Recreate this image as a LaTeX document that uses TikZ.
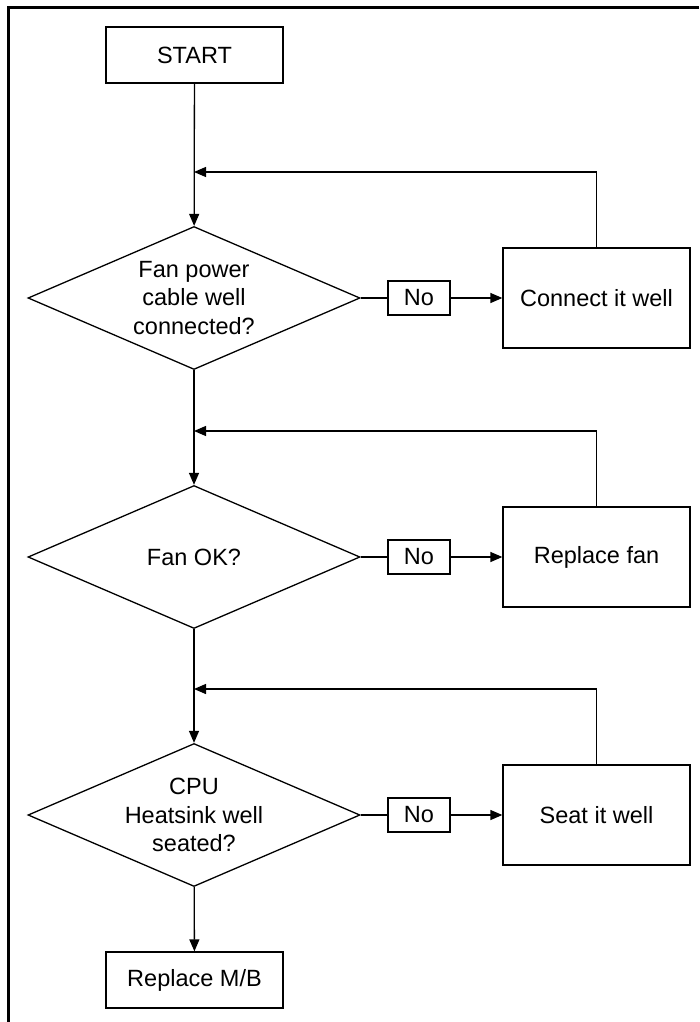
\documentclass[tikz,border=0pt]{standalone}
\usepackage{fontspec}
\setmainfont{Liberation Sans}
\usetikzlibrary{arrows.meta,shapes.geometric}

\begin{document}
\begin{tikzpicture}[x=1pt, y=-1pt, >={Triangle[length=12pt,width=10pt]},
  every node/.style={font=\fontsize{23.5}{28.5}\selectfont, line width=1.3pt},
  procbox/.style={draw, rectangle, inner sep=0pt},
  decision/.style={draw, diamond, aspect=2.32, inner sep=0pt, align=center,
    minimum width=332pt, minimum height=143pt},
  nobox/.style={draw, rectangle, inner sep=0pt, minimum width=62pt, minimum height=34pt},
  flow/.style={line width=1.3pt}]
\useasboundingbox (0,0) rectangle (699,1022);
\draw[line width=3pt] (699,7.5) -- (8.5,7.5) -- (8.5,1022);
% main column
\node[procbox, minimum width=177pt, minimum height=56pt] (start) at (194.5,55) {START};
\node[decision] (fancable) at (194,298) {Fan power\\cable well\\connected?};
\node[decision] (fanok) at (194,557) {Fan OK?};
\node[decision] (heatsink) at (194,815) {CPU\\Heatsink well\\seated?};
\node[procbox, minimum width=177pt, minimum height=56pt] (mb) at (194.5,980) {Replace M/B};
% right column
\node[nobox] (no1) at (419,298) {No};
\node[nobox] (no2) at (419,557) {No};
\node[nobox] (no3) at (419,815) {No};
\node[procbox, minimum width=187pt, minimum height=100pt] (connect) at (596.5,298) {Connect it well};
\node[procbox, minimum width=187pt, minimum height=100pt] (repfan) at (596.5,557) {Replace fan};
\node[procbox, minimum width=187pt, minimum height=100pt] (seat) at (596.5,815) {Seat it well};
\coordinate (j1) at (194,172);
\coordinate (j2) at (194,431);
\coordinate (j3) at (194,689);
% connectors
\draw[flow,->] (start) -- (fancable);
\draw[flow,->] (fancable) -- (fanok);
\draw[flow,->] (fanok) -- (heatsink);
\draw[flow,->] (heatsink) -- (mb);
\draw[flow] (fancable.east) -- (no1.west);
\draw[flow] (fanok.east) -- (no2.west);
\draw[flow] (heatsink.east) -- (no3.west);
\draw[flow,->] (no1) -- (connect);
\draw[flow,->] (no2) -- (repfan);
\draw[flow,->] (no3) -- (seat);
\draw[flow,->] (connect.north) |- (j1);
\draw[flow,->] (repfan.north) |- (j2);
\draw[flow,->] (seat.north) |- (j3);
\end{tikzpicture}
\end{document}
